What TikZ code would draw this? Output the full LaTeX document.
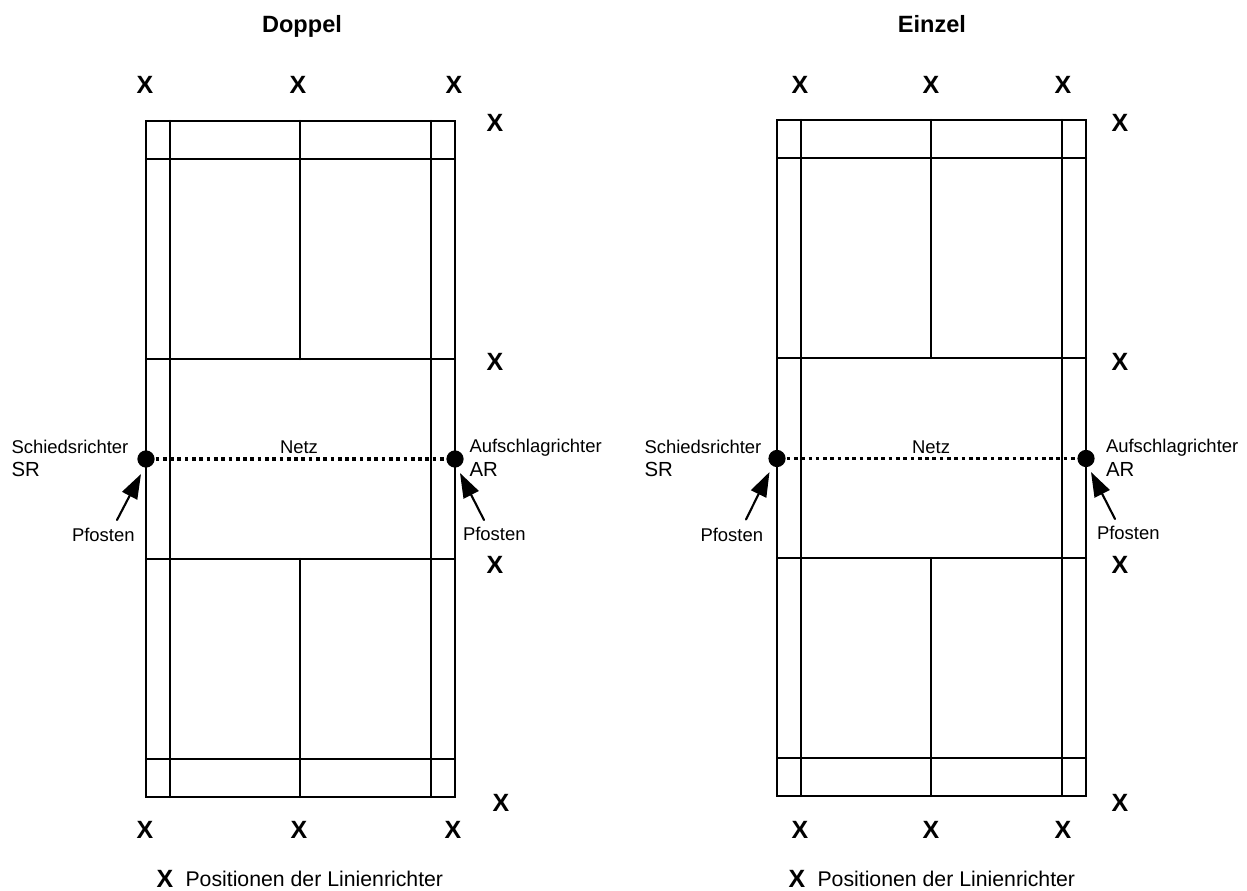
\documentclass[tikz,border=0pt]{standalone}
\usepackage{fontspec}
\setmainfont{Liberation Sans}
\usetikzlibrary{arrows.meta}
\def\courtCoords{\coordinate (A) at (0,0);\coordinate (B) at (309,0);\coordinate (C) at (309,676);\coordinate (D) at (0,676);}
\tikzset{
	mark X/.style={font=\fontsize{14.2}{14}\selectfont\bfseries, inner sep=0pt},
	title label/.style={font=\fontsize{13.4}{14}\selectfont\bfseries, inner sep=0pt, anchor=base},
	small label/.style={font=\fontsize{10.5}{12}\selectfont, inner sep=0pt},
	short label/.style={font=\fontsize{11.6}{12}\selectfont, inner sep=0pt, anchor=base west},
	legend label/.style={font=\fontsize{12.1}{14}\selectfont, inner sep=0pt, anchor=base west},
	post/.style={circle, fill=black, inner sep=0pt, minimum size=9.8pt},
	post arrow/.style={-{Triangle[length=14pt, width=9.5pt]}, line width=1.2pt},
	net line/.style={line width=1.8pt, line cap=butt, dash pattern=on 2.1pt off 2.05pt}
}
\begin{document}
\begin{tikzpicture}[x=0.02cm, y=-0.02cm, line width=1.15pt, line cap=round]
	\useasboundingbox (0,0) rectangle (1247,891);

	% Doppel
	\begin{scope}[shift={(146,121)}]
		\courtCoords
		\draw (A) rectangle (C);
		\draw (24,0)--(24,676);
		\draw (285,0)--(285,676);
		\draw (154,0)--(154,238);
		\draw (154,438)--(154,676);
		\foreach \y in {38,238,438,638}
			\draw (A|-0,\y)--(B|-0,\y);
		\node[post] (postSR) at (0,338) {};
		\node[post] (postAR) at (309,338) {};
		\draw[net line] (postSR)--(postAR);
	\end{scope}

	\node[title label] (titleD) at (302,32.5) {Doppel};
	\node[small label] (netD) at (299,447) {Netz};
	\node[small label, anchor=base west] (srD) at (10.5,453.5) {Schiedsrichter};
	\node[short label] (srkD) at (10.5,476.7) {SR};
	\node[small label, anchor=base west] (arD) at (468.5,453) {Aufschlagrichter};
	\node[short label] (arkD) at (468.5,477) {AR};
	\node[small label, anchor=base west] (pfostenSRD) at (71,541.7) {Pfosten};
	\node[small label, anchor=base west] (pfostenARD) at (462,540.7) {Pfosten};
	\coordinate (tailSRD) at (117,520);
	\coordinate (tipSRD) at (141,474);
	\coordinate (tailARD) at (484,520);
	\coordinate (tipARD) at (460,473);
	\draw[post arrow] (tailSRD)--(tipSRD);
	\draw[post arrow] (tailARD)--(tipARD);

	\foreach \name/\x/\y in {a/145/85, b/298/85, c/454/85, d/495/123, e/495/362, f/495/565, g/501/803, h/145/830, i/299/830, j/453/830}
		\node[mark X] (d\name) at (\x,\y) {X};
	\node[mark X] (legendXD) at (165,879) {X};
	\node[legend label] (legendD) at (184.5,886.7) {Positionen der Linienrichter};

	% Einzel
	\begin{scope}[shift={(777,120)}]
		\courtCoords
		\draw (A) rectangle (C);
		\draw (24,0)--(24,676);
		\draw (285,0)--(285,676);
		\draw (154,0)--(154,238);
		\draw (154,438)--(154,676);
		\foreach \y in {38,238,438,638}
			\draw (A|-0,\y)--(B|-0,\y);
		\node[post] (postSRE) at (0,338.5) {};
		\node[post] (postARE) at (309,338.5) {};
		\draw[net line] (postSRE)--(postARE);
	\end{scope}

	\node[title label] (titleE) at (932,32.5) {Einzel};
	\node[small label] (netE) at (931,447) {Netz};
	\node[small label, anchor=base west] (srE) at (643.5,453.5) {Schiedsrichter};
	\node[short label] (srkE) at (643.5,476.7) {SR};
	\node[small label, anchor=base west] (arE) at (1105,452.7) {Aufschlagrichter};
	\node[short label] (arkE) at (1105,477) {AR};
	\node[small label, anchor=base west] (pfostenSRE) at (699.5,541.7) {Pfosten};
	\node[small label, anchor=base west] (pfostenARE) at (1096,539.5) {Pfosten};
	\coordinate (tailSRE) at (746,519.5);
	\coordinate (tipSRE) at (769.5,472);
	\coordinate (tailARE) at (1115,519);
	\coordinate (tipARE) at (1091,472);
	\draw[post arrow] (tailSRE)--(tipSRE);
	\draw[post arrow] (tailARE)--(tipARE);

	\foreach \name/\x/\y in {a/800/85, b/931/85, c/1063/85, d/1120/123, e/1120/362, f/1120/565, g/1120/803, h/800/830, i/931/830, j/1063/830}
		\node[mark X] (e\name) at (\x,\y) {X};
	\node[mark X] (legendXE) at (797,879) {X};
	\node[legend label] (legendE) at (816.5,886.7) {Positionen der Linienrichter};
\end{tikzpicture}
\end{document}
